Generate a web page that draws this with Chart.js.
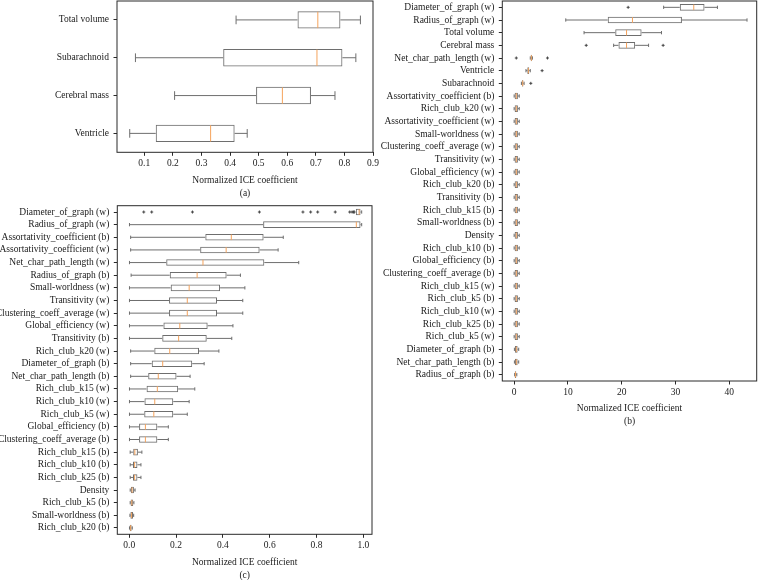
<!DOCTYPE html>
<html><head><meta charset="utf-8">
<script src="https://cdn.jsdelivr.net/npm/chart.js@4.4.0/dist/chart.umd.min.js"></script>
<style>
html,body{margin:0;padding:0;background:#fff;width:759px;height:580px;overflow:hidden;position:relative}
canvas{position:absolute}
</style></head><body>
<canvas id="ca" width="380" height="200" style="left:0;top:0"></canvas>
<canvas id="cb" width="379" height="432" style="left:380px;top:0"></canvas>
<canvas id="cc" width="380" height="382" style="left:0;top:200px"></canvas>
<script>
// ---------- Panel (a) ----------
const catsA = ['Total volume','Subarachnoid','Cerebral mass','Ventricle'];
const lowA  = [0.421, 0.069, 0.206, 0.049];
const q1A   = [0.636, 0.376, 0.491, 0.140];
const medA  = [0.707, 0.704, 0.583, 0.332];
const q3A   = [0.786, 0.793, 0.683, 0.416];
const highA = [0.856, 0.840, 0.767, 0.460];
const outA  = [[],[],[],[]];
const ticksA = [0.1,0.2,0.3,0.4,0.5,0.6,0.7,0.8,0.9];

// ---------- Panel (b) ----------
const catsB = ['Diameter_of_graph (w)','Radius_of_graph (w)','Total volume','Cerebral mass',
 'Net_char_path_length (w)','Ventricle','Subarachnoid','Assortativity_coefficient (b)',
 'Rich_club_k20 (w)','Assortativity_coefficient (w)','Small-worldness (w)','Clustering_coeff_average (w)',
 'Transitivity (w)','Global_efficiency (w)','Rich_club_k20 (b)','Transitivity (b)','Rich_club_k15 (b)',
 'Small-worldness (b)','Density','Rich_club_k10 (b)','Global_efficiency (b)','Clustering_coeff_average (b)',
 'Rich_club_k15 (w)','Rich_club_k5 (b)','Rich_club_k10 (w)','Rich_club_k25 (b)','Rich_club_k5 (w)',
 'Diameter_of_graph (b)','Net_char_path_length (b)','Radius_of_graph (b)'];
const lowB  = [27.8, 9.6, 13.0, 18.5, 3.0, 2.2, 1.35, 0.0, 0.0, 0.0, 0.0, 0.0, 0.0, 0.0, 0.0, 0.0, 0.0, 0.0, 0.0, 0.0, 0.0, 0.0, 0.0, 0.0, 0.0, 0.0, 0.0, 0.05, 0.05, 0.1];
const q1B   = [30.8, 17.4, 18.8, 19.4, 3.1, 2.45, 1.5, 0.1, 0.1, 0.1, 0.1, 0.1, 0.1, 0.1, 0.1, 0.1, 0.1, 0.1, 0.1, 0.1, 0.1, 0.1, 0.1, 0.1, 0.1, 0.1, 0.1, 0.15, 0.15, 0.12];
const medB  = [33.4, 22.0, 20.9, 20.9, 3.2, 2.65, 1.6, 0.4, 0.4, 0.4, 0.4, 0.4, 0.4, 0.4, 0.4, 0.4, 0.4, 0.4, 0.4, 0.4, 0.4, 0.4, 0.4, 0.4, 0.4, 0.4, 0.4, 0.4, 0.4, 0.25];
const q3B   = [35.4, 31.2, 23.7, 22.5, 3.3, 2.8, 1.7, 0.7, 0.7, 0.7, 0.7, 0.7, 0.7, 0.7, 0.7, 0.7, 0.7, 0.7, 0.7, 0.7, 0.7, 0.7, 0.7, 0.7, 0.7, 0.7, 0.7, 0.65, 0.65, 0.4];
const highB = [37.8, 43.3, 27.4, 25.0, 3.4, 3.0, 1.85, 0.95, 0.95, 0.95, 0.95, 0.95, 0.95, 0.95, 0.95, 0.95, 0.95, 0.95, 0.95, 0.95, 0.95, 0.95, 0.95, 0.95, 0.95, 0.95, 0.95, 0.85, 0.85, 0.5];
const outB  = [[21.2],[],[],[13.4,27.7],[0.4,6.2],[5.2],[3.1],[],[],[],[],[],[],[],[],[],[],[],[],[],[],[],[],[],[],[],[],[],[],[]];
const ticksB = [0,10,20,30,40];

// ---------- Panel (c) ----------
const catsC = ['Diameter_of_graph (w)','Radius_of_graph (w)','Assortativity_coefficient (b)',
 'Assortativity_coefficient (w)','Net_char_path_length (w)','Radius_of_graph (b)','Small-worldness (w)',
 'Transitivity (w)','Clustering_coeff_average (w)','Global_efficiency (w)','Transitivity (b)',
 'Rich_club_k20 (w)','Diameter_of_graph (b)','Net_char_path_length (b)','Rich_club_k15 (w)',
 'Rich_club_k10 (w)','Rich_club_k5 (w)','Global_efficiency (b)','Clustering_coeff_average (b)',
 'Rich_club_k15 (b)','Rich_club_k10 (b)','Rich_club_k25 (b)','Density','Rich_club_k5 (b)',
 'Small-worldness (b)','Rich_club_k20 (b)'];
const lowC  = [0.962, 0.001, 0.006, 0.006, 0.001, 0.008, 0.001, 0.001, 0.001, 0.001, 0.001, 0.006, 0.006, 0.006, 0.001, 0.001, 0.001, 0.001, 0.001, 0.004, 0.004, 0.004, 0.004, 0.004, 0.003, 0.001];
const q1C   = [0.968, 0.572, 0.325, 0.303, 0.158, 0.173, 0.177, 0.170, 0.170, 0.146, 0.141, 0.107, 0.096, 0.081, 0.074, 0.065, 0.064, 0.042, 0.042, 0.017, 0.016, 0.016, 0.007, 0.006, 0.005, 0.002];
const medC  = [0.982, 0.970, 0.436, 0.414, 0.315, 0.290, 0.256, 0.248, 0.248, 0.216, 0.211, 0.173, 0.143, 0.124, 0.120, 0.109, 0.105, 0.069, 0.069, 0.024, 0.023, 0.023, 0.012, 0.011, 0.010, 0.006];
const q3C   = [0.988, 0.988, 0.574, 0.557, 0.577, 0.416, 0.388, 0.375, 0.375, 0.335, 0.331, 0.298, 0.269, 0.202, 0.209, 0.188, 0.188, 0.120, 0.120, 0.037, 0.035, 0.035, 0.020, 0.017, 0.016, 0.010];
const highC = [0.993, 0.993, 0.658, 0.636, 0.724, 0.475, 0.494, 0.485, 0.485, 0.443, 0.438, 0.383, 0.320, 0.260, 0.280, 0.256, 0.248, 0.167, 0.167, 0.054, 0.050, 0.050, 0.025, 0.020, 0.019, 0.013];
const outC  = [[0.062,0.096,0.270,0.556,0.742,0.775,0.805,0.880,0.942,0.952,0.958],[],[],[],[],[],[],[],[],[],[],[],[],[],[],[],[],[],[],[],[],[],[],[],[],[]];
const ticksC = [0.0,0.2,0.4,0.6,0.8,1.0];

const FONT = '"Liberation Serif", "Times New Roman", serif';
const BOX = '#6e6e6e', MED = '#f5a35c', FRAME = '#2a2a2a', TXT = '#1a1a1a';

function boxPlugin(low, med, high, outs, frac) {
  return {
    id: 'boxPlot',
    afterDatasetsDraw(chart) {
      const ctx = chart.ctx, xs = chart.scales.x, ys = chart.scales.y;
      const band = Math.abs(ys.getPixelForValue(1) - ys.getPixelForValue(0));
      const bh = band * frac, cap = bh / 4;
      ctx.save();
      ctx.lineWidth = 1;
      low.forEach((lo, i) => {
        const yc = ys.getPixelForValue(i);
        const ds = chart.data.datasets[0].data[i];
        const pLo = xs.getPixelForValue(lo), pHi = xs.getPixelForValue(high[i]);
        const pQ1 = xs.getPixelForValue(ds[0]), pQ3 = xs.getPixelForValue(ds[1]);
        ctx.strokeStyle = BOX;
        ctx.beginPath();
        ctx.moveTo(pLo, yc); ctx.lineTo(pQ1, yc);
        ctx.moveTo(pQ3, yc); ctx.lineTo(pHi, yc);
        ctx.moveTo(pLo, yc - cap); ctx.lineTo(pLo, yc + cap);
        ctx.moveTo(pHi, yc - cap); ctx.lineTo(pHi, yc + cap);
        ctx.stroke();
        const pm = xs.getPixelForValue(med[i]);
        ctx.strokeStyle = MED;
        ctx.beginPath();
        ctx.moveTo(pm, yc - bh / 2 + 0.5); ctx.lineTo(pm, yc + bh / 2 - 0.5);
        ctx.stroke();
        ctx.strokeStyle = '#444';
        (outs[i] || []).forEach(v => {
          const px = xs.getPixelForValue(v);
          ctx.beginPath();
          ctx.moveTo(px - 1.5, yc); ctx.lineTo(px + 1.5, yc);
          ctx.moveTo(px, yc - 1.5); ctx.lineTo(px, yc + 1.5);
          ctx.stroke();
        });
      });
      ctx.restore();
    },
    afterDraw(chart) {
      const a = chart.chartArea, ctx = chart.ctx;
      ctx.save();
      ctx.strokeStyle = FRAME; ctx.lineWidth = 1;
      ctx.strokeRect(a.left, a.top, a.right - a.left, a.bottom - a.top);
      ctx.restore();
    }
  };
}

function makePanel(id, cats, low, q1, med, q3, high, outs, ticks, cfg) {
  new Chart(document.getElementById(id), {
    type: 'bar',
    data: {
      labels: cats,
      datasets: [{
        data: q1.map((v, i) => [v, q3[i]]),
        backgroundColor: 'rgba(255,255,255,0)',
        borderColor: BOX, borderWidth: 1, borderSkipped: false,
        barPercentage: cfg.frac, categoryPercentage: 1
      }]
    },
    options: {
      indexAxis: 'y', responsive: false, animation: false,
      layout: { padding: cfg.pad },
      plugins: { legend: { display: false }, tooltip: { enabled: false } },
      scales: {
        y: {
          type: 'category', offset: true,
          grid: { offset: false, drawOnChartArea: false, tickLength: 3.5, color: FRAME },
          border: { display: false },
          ticks: { autoSkip: false, padding: 4.5, color: TXT, font: { family: FONT, size: 9.5 } },
          afterFit: s => { s.width = cfg.yw; s.paddingTop = 0; s.paddingBottom = 0; }
        },
        x: {
          type: 'linear', min: cfg.min, max: cfg.max,
          grid: { drawOnChartArea: false, tickLength: 3.5, color: FRAME },
          border: { display: false },
          ticks: { padding: 2, maxRotation: 0, autoSkip: false, color: TXT,
                   font: { family: FONT, size: 9.5 }, callback: cfg.fmt },
          afterBuildTicks: s => { s.ticks = ticks.map(v => ({ value: v })); },
          title: { display: true, text: ['Normalized ICE coefficient', cfg.label], color: TXT,
                   font: { family: FONT, size: 9.5, lineHeight: cfg.lh }, padding: { top: 0, bottom: cfg.tpb } },
          afterFit: s => { s.height = cfg.xh; s.paddingLeft = 0; s.paddingRight = 0; }
        }
      }
    },
    plugins: [boxPlugin(low, med, high, outs, cfg.frac)]
  });
}

makePanel('ca', catsA, lowA, q1A, medA, q3A, highA, outA, ticksA, {
  frac: 0.46, pad: { left: 0, top: 1, right: 7, bottom: 0 }, yw: 117, xh: 47.7,
  min: 0.0045, max: 0.9, fmt: v => Number(v).toFixed(1), label: '(a)', lh: '13px', tpb: 0.5 });

makePanel('cb', catsB, lowB, q1B, medB, q3B, highB, outB, ticksB, {
  frac: 0.52, pad: { left: 0, top: 1, right: 2.3, bottom: 0 }, yw: 122.3, xh: 51,
  min: -2.2, max: 45.1, fmt: v => String(v), label: '(b)', lh: '12.5px', tpb: 4.75 });

makePanel('cc', catsC, lowC, q1C, medC, q3C, highC, outC, ticksC, {
  frac: 0.52, pad: { left: 0, top: 5.7, right: 8, bottom: 0 }, yw: 117.3, xh: 47.7,
  min: -0.051, max: 1.037, fmt: v => Number(v).toFixed(1), label: '(c)', lh: '12.5px', tpb: 0.75 });
</script>
</body></html>
